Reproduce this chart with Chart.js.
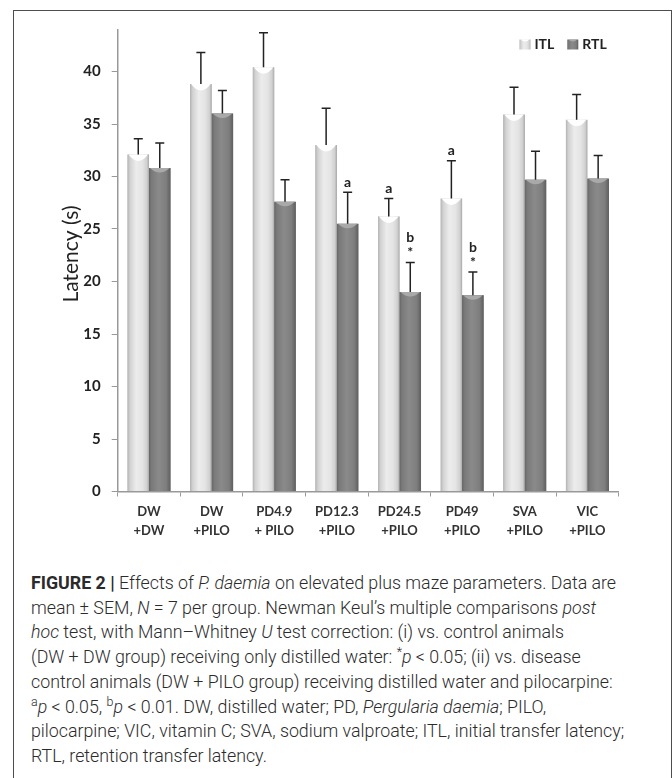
<!DOCTYPE html>
<html>
<head>
<meta charset="utf-8">
<script src="https://cdn.jsdelivr.net/npm/chart.js@4/dist/chart.umd.min.js"></script>
<style>
  html, body { margin: 0; padding: 0; background: #fff; overflow: hidden; }
  #frame { position: absolute; left: 13px; top: 10px; width: 659px; height: 800px;
           border: 1.5px solid #4d4d4d; box-sizing: border-box; }
  #chart { position: absolute; left: 0; top: 0; }
  #caption { position: absolute; left: 31px; top: 571px; font-family: Roboto, "Liberation Sans", sans-serif;
             font-weight: 300; font-size: 17.8px; line-height: 24.7px; color: #2b2b2b; white-space: nowrap; }
  #caption b { font-weight: 700; }
  #caption sup { font-size: 0.7em; line-height: 0; vertical-align: 0.55em; }
</style>
</head>
<body>
<div id="frame"></div>
<canvas id="chart" width="672" height="560" style="width:672px;height:560px"></canvas>
<div id="caption">
<b>FIGURE 2 |</b> Effects of <i>P. daemia</i> on elevated plus maze parameters. Data are<br>
mean ± SEM, <i>N</i> = 7 per group. Newman Keul’s multiple comparisons <i>post</i><br>
<i>hoc</i> test, with Mann–Whitney <i>U</i> test correction: (i) vs. control animals<br>
(DW + DW group) receiving only distilled water: <sup>*</sup><i>p</i> &lt; 0.05; (ii) vs. disease<br>
control animals (DW + PILO group) receiving distilled water and pilocarpine:<br>
<sup>a</sup><i>p</i> &lt; 0.05, <sup>b</sup><i>p</i> &lt; 0.01. DW, distilled water; PD, <i>Pergularia daemia</i>; PILO,<br>
pilocarpine; VIC, vitamin C; SVA, sodium valproate; ITL, initial transfer latency;<br>
RTL, retention transfer latency.
</div>
<script>
const groups = [['DW', '+DW'], ['DW', '+PILO'], ['PD4.9', '+ PILO'], ['PD12.3', '+PILO'],
                ['PD24.5', '+PILO'], ['PD49', '+PILO'], ['SVA', '+PILO'], ['VIC', '+PILO']];
const itl = [32.1, 38.8, 40.4, 33.0, 26.2, 27.9, 35.9, 35.4];
const itlSem = [1.5, 3.0, 3.3, 3.5, 1.7, 3.6, 2.6, 2.4];
const rtl = [30.8, 36.0, 27.6, 25.5, 19.0, 18.7, 29.7, 29.8];
const rtlSem = [2.4, 2.2, 2.1, 3.0, 2.8, 2.2, 2.7, 2.2];
// significance letters, read bottom-up ("*" sits right on the error bar)
const itlMarks = ['', '', '', '', 'a', 'a', '', ''];
const rtlMarks = ['', '', '', 'a', '*b', '*b', '', ''];
const yTicks = [0, 5, 10, 15, 20, 25, 30, 35, 40];

const sems = [itlSem, rtlSem];
const marks = [itlMarks, rtlMarks];
const shades = [
  [[0, '#b4b4b4'], [0.12, '#d2d2d2'], [0.4, '#ececec'], [0.7, '#e4e4e4'], [0.9, '#d0d0d0'], [1, '#a8a8a8']],
  [[0, '#666666'], [0.12, '#7a7a7a'], [0.45, '#8a8a8a'], [0.8, '#7e7e7e'], [1, '#5e5e5e']]
];
const caps = ['#ffffff', '#a9a9a9'];

function cylinder(ctx, di, l, y, width, base, capDepth) {
  const r = l + width, x = l + width / 2;
  const g = ctx.createLinearGradient(l, 0, r, 0);
  shades[di].forEach(([s, c]) => g.addColorStop(s, c));
  ctx.fillStyle = g;
  ctx.fillRect(l, y, width, base - y);
  ctx.fillStyle = caps[di];
  ctx.beginPath();
  ctx.moveTo(l + 1, y);
  ctx.lineTo(r - 1, y);
  ctx.quadraticCurveTo(x, y + capDepth, l + 1, y);
  ctx.fill();
}

const barLook = {
  id: 'barLook',
  afterDatasetsDraw(chart) {
    const ctx = chart.ctx;
    const yScale = chart.scales.y;
    chart.data.datasets.forEach((ds, di) => {
      chart.getDatasetMeta(di).data.forEach((bar, i) => {
        const { x, y, base, width } = bar.getProps(['x', 'y', 'base', 'width'], true);
        ctx.save();
        cylinder(ctx, di, x - width / 2, y, width, base, di === 0 ? 13 : 9);
        // error bar
        const top = yScale.getPixelForValue(ds.data[i] + sems[di][i]);
        ctx.strokeStyle = '#222';
        ctx.lineWidth = 1.5;
        ctx.beginPath();
        ctx.moveTo(x, y);
        ctx.lineTo(x, top);
        ctx.moveTo(x - 4.5, top);
        ctx.lineTo(x + 4.5, top);
        ctx.stroke();
        // letters
        ctx.fillStyle = '#222';
        ctx.font = 'bold 14px Lato';
        ctx.textAlign = 'center';
        ctx.textBaseline = 'middle';
        marks[di][i].split('').forEach((m, k) => {
          ctx.fillText(m, x, top - 10 - k * 15);
        });
        ctx.restore();
      });
    });
  },
  afterDraw(chart) {
    const ctx = chart.ctx;
    const area = chart.chartArea;
    ctx.save();
    // y axis title
    ctx.translate(71, (area.top + area.bottom) / 2 - 6.5);
    ctx.rotate(-Math.PI / 2);
    ctx.fillStyle = '#222';
    ctx.font = '21px Lato';
    ctx.textAlign = 'center';
    ctx.textBaseline = 'middle';
    ctx.fillText('Latency (s)', 0, 0);
    ctx.restore();
    // legend, top right inside the plot
    ctx.save();
    ctx.font = 'bold 14px Lato';
    ctx.textBaseline = 'middle';
    ctx.fillStyle = '#222';
    let lx = area.right - 12;
    const ly = area.top + 15;
    const items = chart.data.datasets.map((d, di) => ({ label: d.label, di })).reverse();
    items.forEach((it) => {
      const tw = ctx.measureText(it.label).width;
      lx -= tw;
      ctx.fillStyle = '#222';
      ctx.fillText(it.label, lx, ly);
      lx -= 4 + 11;
      cylinder(ctx, it.di, lx, ly - 5, 11, ly + 5, 4);
      lx -= 13;
    });
    ctx.restore();
  }
};

new Chart(document.getElementById('chart'), {
  type: 'bar',
  data: {
    labels: groups,
    datasets: [
      { label: 'ITL', data: itl, backgroundColor: '#dcdcdc', borderColor: '#a0a0a0', borderWidth: 1 },
      { label: 'RTL', data: rtl, backgroundColor: '#7c7c7c', borderColor: '#555555', borderWidth: 1 }
    ]
  },
  options: {
    responsive: false,
    animation: false,
    layout: { padding: { left: 0, top: 29.5, right: 53.3, bottom: 0 } },
    datasets: { bar: { categoryPercentage: 0.687, barPercentage: 1.0 } },
    scales: {
      x: {
        grid: { display: true, offset: true, drawOnChartArea: false, tickLength: 5, color: '#999' },
        border: { display: true, color: '#999', width: 1.5 },
        ticks: { color: '#333', padding: 6, font: { family: 'Lato', weight: 'bold', size: 13, lineHeight: 1.45 } },
        afterFit: (s) => { s.height = 68.5; }
      },
      y: {
        min: 0,
        max: 44,
        grid: { display: true, drawOnChartArea: false, tickLength: 6, color: '#999' },
        border: { display: true, color: '#999', width: 1.5 },
        ticks: {
          stepSize: 5,
          includeBounds: false,
          padding: 11,
          color: '#222',
          font: { family: 'Lato', weight: 'bold', size: 15 },
          callback: (v) => (yTicks.includes(v) ? v : '')
        },
        afterFit: (s) => { s.width = 117.7; }
      }
    },
    plugins: {
      legend: { display: false },
      tooltip: { enabled: false }
    }
  },
  plugins: [barLook]
});
</script>
</body>
</html>
